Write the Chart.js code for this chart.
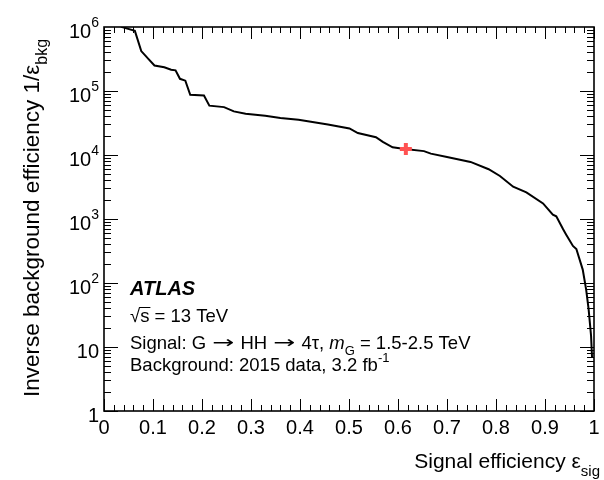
<!DOCTYPE html>
<html><head><meta charset="utf-8">
<script src="https://cdn.jsdelivr.net/npm/chart.js@4.4.1/dist/chart.umd.min.js"></script>
<style>html,body{margin:0;padding:0;background:#fff}#c{display:block}</style>
</head><body>
<canvas id="c" width="604" height="480"></canvas>
<script>
// ROC curve: signal efficiency vs inverse background efficiency
const sigEff = [0.025, 0.036, 0.063, 0.076, 0.090, 0.103, 0.123, 0.137, 0.146, 0.155, 0.166, 0.176, 0.204, 0.215, 0.245, 0.265, 0.289, 0.329, 0.360, 0.397, 0.457, 0.501, 0.518, 0.555, 0.569, 0.589, 0.614, 0.653, 0.667, 0.700, 0.748, 0.785, 0.808, 0.835, 0.862, 0.896, 0.916, 0.923, 0.937, 0.943, 0.957, 0.964, 0.977, 0.984, 0.989, 0.994, 0.996];
const invBkgEff = [1.3e6, 1.0e6, 8.7e5, 4.2e5, 3.2e5, 2.5e5, 2.35e5, 2.15e5, 2.1e5, 1.55e5, 1.45e5, 8.7e4, 8.5e4, 5.9e4, 5.6e4, 4.8e4, 4.4e4, 4.1e4, 3.8e4, 3.55e4, 3.0e4, 2.6e4, 2.2e4, 1.9e4, 1.6e4, 1.32e4, 1.24e4, 1.15e4, 1.05e4, 9300, 7800, 6000, 4700, 3200, 2600, 1750, 1170, 1100, 690, 575, 380, 340, 162, 79, 39, 15, 6.9];
// working point
const wpSigEff = [0.616];
const wpInvBkgEff = [12400];
// tick labels
const xTickValues = [0, 0.1, 0.2, 0.3, 0.4, 0.5, 0.6, 0.7, 0.8, 0.9, 1];
const xTickLabels = ['0', '0.1', '0.2', '0.3', '0.4', '0.5', '0.6', '0.7', '0.8', '0.9', '1'];
const yTickValues = [1, 10, 100, 1000, 10000, 100000, 1000000];
const yTickBase = ['1', '10', '10', '10', '10', '10', '10'];
const yTickExp = ['', '', '2', '3', '4', '5', '6'];

const FONT = "'Liberation Sans', Arial, Helvetica, sans-serif";
const SYM = "'DejaVu Sans', sans-serif";

// draw rich text segments; a segment may request a fixed width (w) by horizontal scaling
function drawSegs(ctx, segs, x, y) {
  for (const s of segs) {
    ctx.font = s.font;
    const mw = ctx.measureText(s.t).width;
    if (s.w) {
      ctx.save();
      ctx.translate(x + (s.pad || 0), y + (s.dy || 0));
      ctx.scale((s.w - 2 * (s.pad || 0)) / mw, 1);
      ctx.fillText(s.t, 0, 0);
      ctx.restore();
      x += s.w;
    } else {
      ctx.fillText(s.t, x, y + (s.dy || 0));
      x += mw;
    }
  }
  return x;
}
function segsWidth(ctx, segs) {
  let w = 0;
  for (const s of segs) { ctx.font = s.font; w += s.w ? s.w : ctx.measureText(s.t).width; }
  return w;
}

const framePlugin = {
  id: 'rootFrame',
  afterDraw(chart) {
    const ctx = chart.ctx, a = chart.chartArea;
    const xs = chart.scales.x, ys = chart.scales.y;
    ctx.save();
    ctx.strokeStyle = '#000';
    ctx.fillStyle = '#000';
    // ticks
    ctx.lineWidth = 1;
    ctx.beginPath();
    for (let i = 0; i <= 50; i++) {
      const v = i / 50;
      const px = Math.round(xs.getPixelForValue(v)) + 0.5;
      const L = (i % 5 === 0) ? 12 : 6;
      ctx.moveTo(px, a.bottom); ctx.lineTo(px, a.bottom - L);
      ctx.moveTo(px, a.top); ctx.lineTo(px, a.top + L);
    }
    for (let e = 0; e < 6; e++) {
      for (let m = 1; m <= 9; m++) {
        const v = m * Math.pow(10, e);
        const py = Math.round(ys.getPixelForValue(v)) + 0.5;
        const L = (m === 1) ? 14 : 7;
        ctx.moveTo(a.left, py); ctx.lineTo(a.left + L, py);
        ctx.moveTo(a.right, py); ctx.lineTo(a.right - L, py);
      }
    }
    ctx.stroke();
    // frame
    ctx.lineWidth = 1.6;
    ctx.strokeRect(a.left, a.top, a.right - a.left, a.bottom - a.top);

    // x tick labels
    ctx.font = '20px ' + FONT;
    ctx.textAlign = 'center';
    ctx.textBaseline = 'alphabetic';
    xTickValues.forEach((v, i) => {
      ctx.fillText(xTickLabels[i], xs.getPixelForValue(v), a.bottom + 23);
    });
    // y tick labels
    ctx.textAlign = 'left';
    yTickValues.forEach((v, i) => {
      const py = ys.getPixelForValue(v);
      const segs = [{ t: yTickBase[i], font: '20px ' + FONT }];
      if (yTickExp[i]) segs.push({ t: yTickExp[i], font: '14px ' + FONT, dy: -11 });
      const w = segsWidth(ctx, segs);
      drawSegs(ctx, segs, a.left - 5 - w, py + 11);
    });

    // x axis title
    const xt = [
      { t: 'Signal efficiency ', font: '21px ' + FONT },
      { t: 'ε', font: '21px ' + FONT },
      { t: 'sig', font: '15px ' + FONT, dy: 8 }
    ];
    drawSegs(ctx, xt, 600 - segsWidth(ctx, xt), 468);

    // y axis title
    const yt = [
      { t: 'Inverse background efficiency 1/', font: '22.5px ' + FONT },
      { t: 'ε', font: '22.5px ' + FONT },
      { t: 'bkg', font: '16px ' + FONT, dy: 8 }
    ];
    ctx.save();
    ctx.translate(39, 397);
    ctx.rotate(-Math.PI / 2);
    drawSegs(ctx, yt, 0, 0);
    ctx.restore();

    // text block
    const x0 = 130;
    const TF = '18.5px ' + FONT;
    ctx.font = 'italic bold 20px ' + FONT;
    ctx.fillText('ATLAS', x0, 295);
    // sqrt s
    ctx.font = TF;
    const rw = ctx.measureText('√').width;
    ctx.fillText('√', x0, 322);
    ctx.fillText('s = 13 TeV', x0 + rw, 322);
    const sw = ctx.measureText('s').width;
    ctx.lineWidth = 1;
    ctx.beginPath();
    ctx.moveTo(x0 + rw - 1, 307.5); ctx.lineTo(x0 + rw + sw + 1, 307.5);
    ctx.stroke();
    drawSegs(ctx, [
      { t: 'Signal: G ', font: TF },
      { t: '→', font: '17px ' + SYM, dy: -1, w: 24, pad: 1 },
      { t: ' HH ', font: TF },
      { t: '→', font: '17px ' + SYM, dy: -1, w: 24, pad: 1 },
      { t: ' 4τ, ', font: TF },
      { t: 'm', font: 'italic ' + TF },
      { t: 'G', font: '13px ' + FONT, dy: 6 },
      { t: ' = 1.5-2.5 TeV', font: TF }
    ], x0, 349);
    drawSegs(ctx, [
      { t: 'Background: 2015 data, 3.2 fb', font: TF },
      { t: '-1', font: '13px ' + FONT, dy: -9 }
    ], x0, 371);
    ctx.restore();
  }
};

new Chart(document.getElementById('c'), {
  type: 'scatter',
  data: {
    datasets: [
      {
        label: 'working point',
        data: wpSigEff.map((x, i) => ({ x: x, y: wpInvBkgEff[i] })),
        pointStyle: 'cross',
        pointRadius: 6,
        pointBorderWidth: 4,
        borderColor: '#ff5252',
        backgroundColor: '#ff5252',
        showLine: false,
        order: 0
      },
      {
        label: 'ROC',
        data: sigEff.map((x, i) => ({ x: x, y: invBkgEff[i] })),
        showLine: true,
        borderColor: '#000',
        borderWidth: 2,
        pointRadius: 0,
        tension: 0,
        fill: false,
        order: 1
      }
    ]
  },
  options: {
    responsive: false,
    animation: false,
    devicePixelRatio: 1,
    layout: { padding: { left: 104, right: 5, top: 27, bottom: 69 } },
    plugins: { legend: { display: false }, tooltip: { enabled: false } },
    scales: {
      x: { type: 'linear', min: 0, max: 1, display: false },
      y: { type: 'logarithmic', min: 1, max: 1000000, display: false }
    }
  },
  plugins: [framePlugin]
});
</script>
</body></html>
